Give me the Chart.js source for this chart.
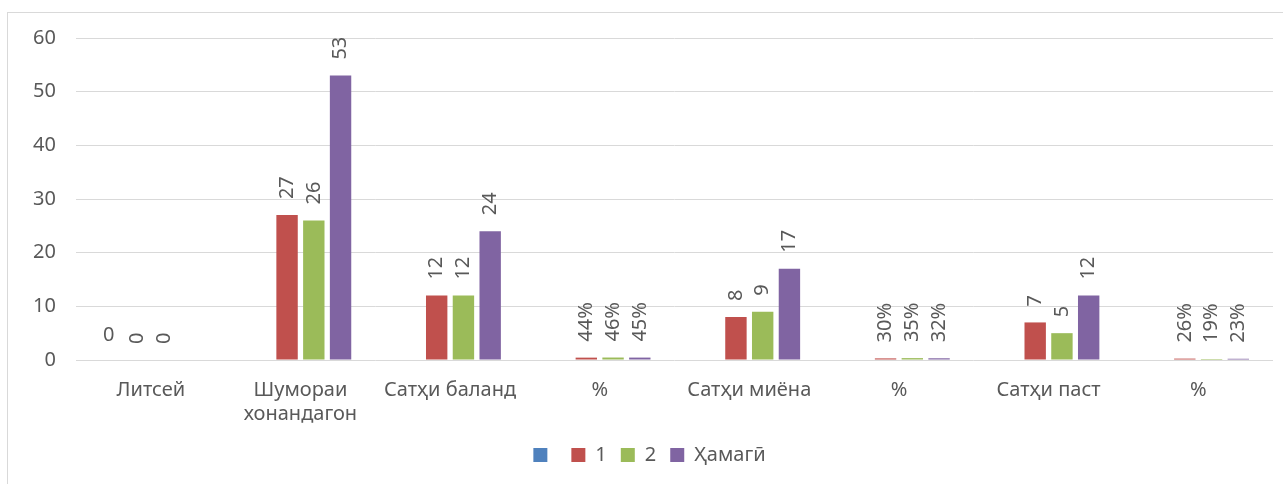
<!DOCTYPE html>
<html>
<head>
<meta charset="utf-8">
<script src="https://cdn.jsdelivr.net/npm/chart.js@4/dist/chart.umd.min.js"></script>
<style>
    html, body { margin: 0; padding: 0; background: #ffffff; }
    #wrap { position: relative; width: 1283px; height: 484px; }
    #frame { position: absolute; left: 7px; top: 12px; width: 1300px; height: 500px;
             border-left: 1px solid #d9d9d9; border-top: 1px solid #d9d9d9; }
    canvas { position: absolute; left: 0; top: 0; }
</style>
</head>
<body>
<div id="wrap">
    <div id="frame"></div>
    <canvas id="chart" width="1283" height="484"></canvas>
</div>
<script>
// Chart data
const categories = ['Литсей', ['Шумораи', 'хонандагон'], 'Сатҳи баланд', '%', 'Сатҳи миёна', '%', 'Сатҳи паст', '%'];
const seriesNames = ['', '1', '2', 'Ҳамагӣ'];
const blankValues = [0, null, null, null, null, null, null, null];
const class1Values = [0, 27, 12, 0.44, 8, 0.30, 7, 0.26];
const class2Values = [0, 26, 12, 0.46, 9, 0.35, 5, 0.19];
const totalValues = [null, 53, 24, 0.45, 17, 0.32, 12, 0.23];
const yTicks = [0, 10, 20, 30, 40, 50, 60];

const colors = ['#4f81bd', '#c0504d', '#9bbb59', '#8064a2'];
const labelRotation = [0, -90, -90, -90];
const textColor = '#595959';
const fontFamily = '"Noto Sans", "Open Sans", sans-serif';
const fontSize = 20;

function formatValue(index, value) {
    if (categories[index] === '%') {
        return Math.round(value * 100) + '%';
    }
    return String(value);
}

// draws the value above each bar, rotated like the original
const barLabels = {
    id: 'barLabels',
    afterDatasetsDraw(chart) {
        const ctx = chart.ctx;
        ctx.save();
        ctx.fillStyle = textColor;
        ctx.font = fontSize + 'px ' + fontFamily;
        chart.data.datasets.forEach((ds, di) => {
            const meta = chart.getDatasetMeta(di);
            meta.data.forEach((bar, i) => {
                const v = ds.data[i];
                if (v === null || v === undefined) return;
                const text = formatValue(i, v);
                ctx.save();
                if (labelRotation[di] !== 0) {
                    ctx.translate(bar.x, bar.y - 16);
                    ctx.rotate(labelRotation[di] * Math.PI / 180);
                    ctx.textAlign = 'left';
                    ctx.textBaseline = 'middle';
                    ctx.fillText(text, 0, 0);
                } else {
                    ctx.textAlign = 'center';
                    ctx.textBaseline = 'bottom';
                    ctx.fillText(text, bar.x - 2, bar.y - 15);
                }
                ctx.restore();
            });
        });
        ctx.restore();
    }
};

const datasets = [blankValues, class1Values, class2Values, totalValues].map((values, i) => ({
    label: seriesNames[i],
    data: values,
    backgroundColor: colors[i],
    borderWidth: 0,
    categoryPercentage: 0.715,
    barPercentage: 0.8
}));

new Chart(document.getElementById('chart'), {
    type: 'bar',
    data: { labels: categories, datasets: datasets },
    options: {
        responsive: false,
        animation: false,
        layout: { padding: { left: 26, right: 10, top: 38, bottom: 9 } },
        plugins: {
            legend: {
                position: 'bottom',
                labels: {
                    boxWidth: 14,
                    boxHeight: 14,
                    padding: 14,
                    color: textColor,
                    font: { size: fontSize, family: fontFamily }
                }
            },
            tooltip: { enabled: false }
        },
        scales: {
            x: {
                grid: { display: false },
                border: { display: false },
                ticks: {
                    autoSkip: false,
                    maxRotation: 0,
                    padding: 10,
                    color: textColor,
                    font: { size: fontSize, family: fontFamily }
                },
                afterFit(scale) { scale.height = 71; }
            },
            y: {
                min: 0,
                max: 60,
                afterBuildTicks(scale) { scale.ticks = yTicks.map(v => ({ value: v })); },
                grid: { color: '#d9d9d9', drawTicks: false },
                border: { display: false },
                ticks: {
                    padding: 20,
                    color: textColor,
                    font: { size: fontSize, family: fontFamily }
                },
                afterFit(scale) { scale.width = 50; }
            }
        }
    },
    plugins: [barLabels]
});
</script>
</body>
</html>
